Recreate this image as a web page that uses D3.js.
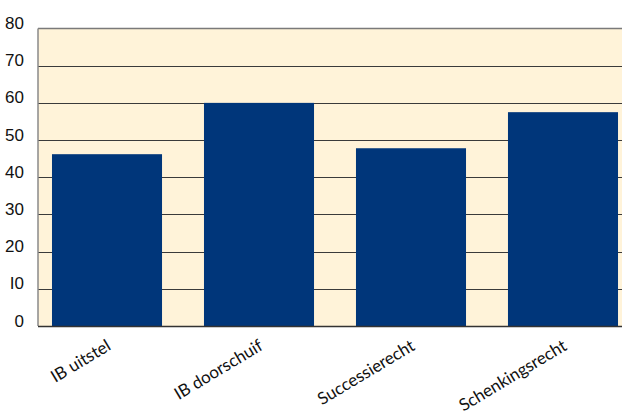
<!DOCTYPE html>
<html><head><meta charset="utf-8">
<script src="https://cdn.jsdelivr.net/npm/d3@7"></script>
<style>body{margin:0;background:#fff}svg{display:block}</style>
</head><body>
<script>
const categories = ["IB uitstel", "IB doorschuif", "Successierecht", "Schenkingsrecht"];
const values = [46.2, 60, 47.8, 57.5];
const yTicks = [0, 10, 20, 30, 40, 50, 60, 70, 80];
const yTickLabels = ["0", "I0", "20", "30", "40", "50", "60", "70", "80"];

const W = 622, H = 416;
const mLeft = 38, mRight = 632, mTop = 28.5, mBottom = 326;
const svg = d3.select("body").append("svg").attr("width", W).attr("height", H);

const x = d3.scaleBand().domain(categories).range([mLeft, mRight]).paddingInner(0.276).paddingOuter(0.092);
const y = d3.scaleLinear().domain([0, 80]).range([mBottom, mTop]);

svg.append("rect").attr("x", mLeft).attr("y", mTop).attr("width", mRight - mLeft).attr("height", mBottom - mTop).attr("fill", "#fff3d9");

// gridlines
svg.append("g").selectAll("line").data(yTicks.filter(d => d > 0 && d < 80)).join("line")
  .attr("x1", mLeft).attr("x2", mRight).attr("y1", d => Math.round(y(d)) + 0.5).attr("y2", d => Math.round(y(d)) + 0.5)
  .attr("stroke", "#3a3a3a").attr("stroke-width", 1);
svg.append("line").attr("x1", mLeft).attr("x2", mRight).attr("y1", mTop).attr("y2", mTop).attr("stroke", "#7a7a7a").attr("stroke-width", 1.5);

// bars
svg.append("g").selectAll("rect").data(categories).join("rect")
  .attr("x", d => x(d)).attr("width", x.bandwidth())
  .attr("y", (d, i) => y(values[i])).attr("height", (d, i) => mBottom - y(values[i]))
  .attr("fill", "#00367a");

// axes lines
svg.append("line").attr("x1", mLeft).attr("x2", mLeft).attr("y1", mTop).attr("y2", mBottom).attr("stroke", "#8a8a8a").attr("stroke-width", 1.5);
svg.append("line").attr("x1", mLeft).attr("x2", mRight).attr("y1", mBottom + 0.5).attr("y2", mBottom + 0.5).attr("stroke", "#333").attr("stroke-width", 1.5);

// y labels
svg.append("g").selectAll("text").data(yTicks).join("text")
  .attr("x", 24).attr("y", d => y(d) + 0.5)
  .attr("text-anchor", "end")
  .attr("font-family", "Liberation Sans, Arial, sans-serif").attr("font-size", 17).attr("fill", "#111")
  .text((d, i) => yTickLabels[i]);

// x labels
svg.append("g").selectAll("text").data(categories).join("text")
  .attr("transform", d => `translate(${x(d) + x.bandwidth() / 2 + 5},${mBottom + 23}) rotate(-31)`)
  .attr("text-anchor", "end")
  .attr("font-family", "Lato, 'Open Sans', sans-serif").attr("font-size", 17).attr("fill", "#111")
  .text(d => d);
</script>
</body></html>
